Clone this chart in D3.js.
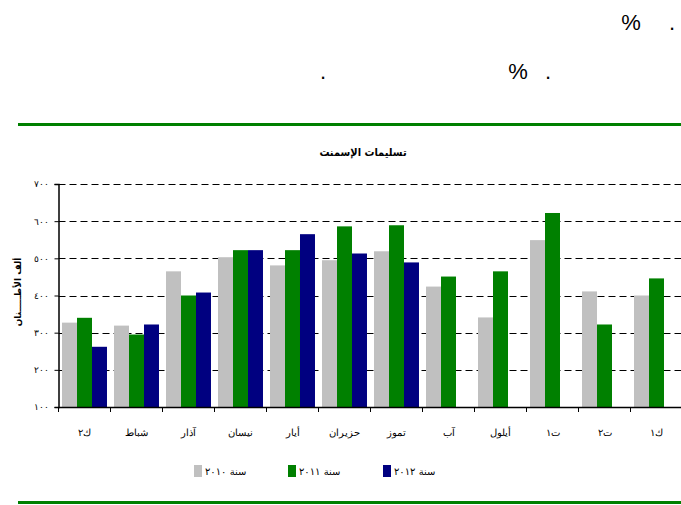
<!DOCTYPE html>
<html>
<head>
<meta charset="utf-8">
<script src="https://cdn.jsdelivr.net/npm/d3@7"></script>
<style>
body { margin: 0; background: #fff; }
svg { display: block; font-family: "DejaVu Sans", sans-serif; }
.grid line { stroke: #000; stroke-dasharray: 7,4; }
.axis path, .axis line { stroke: #000; }
.axis text { font-size: 9px; fill: #000; }
</style>
</head>
<body>
<div class="app"></div>
<script>
'use strict'

var width = 681;
var height = 505;

// months (Jan .. Dec)
var months = ["ك٢", "شباط", "آذار", "نيسان", "أيار", "حزيران", "تموز", "آب", "أيلول", "ت١", "ت٢", "ك١"];
var seriesNames = ["سنة ٢٠١٠", "سنة ٢٠١١", "سنة ٢٠١٢"];
var seriesColors = ["#c0c0c0", "#008000", "#000080"];
var values2010 = [327, 319, 465, 503, 481, 495, 519, 424, 341, 549, 411, 400];
var values2011 = [340, 295, 400, 522, 522, 586, 589, 451, 465, 622, 322, 446];
var values2012 = [262, 322, 408, 522, 565, 513, 489, null, null, null, null, null];
var yTicks = [100, 200, 300, 400, 500, 600, 700];

var allSeries = [values2010, values2011, values2012];

function arabicDigits(n) {
	return String(n).replace(/[0-9]/g, function(d) { return "٠١٢٣٤٥٦٧٨٩"[+d]; });
}

var svg = d3.select(".app")
	.append("svg")
	.attr("width", width)
	.attr("height", height);

// текст сверху (арабский шрифт не отрисован, видны только знаки)
svg.append("text").attr("x", 631).attr("y", 30).attr("text-anchor", "middle")
	.style("font-family", "Liberation Sans").style("font-size", "22px").text("%");
svg.append("text").attr("x", 672).attr("y", 30).attr("text-anchor", "middle")
	.style("font-family", "Liberation Sans").style("font-size", "22px").text(".");
svg.append("text").attr("x", 518).attr("y", 79).attr("text-anchor", "middle")
	.style("font-family", "Liberation Sans").style("font-size", "22px").text("%");
svg.append("text").attr("x", 548).attr("y", 79).attr("text-anchor", "middle")
	.style("font-family", "Liberation Sans").style("font-size", "22px").text(".");
svg.append("text").attr("x", 323).attr("y", 79).attr("text-anchor", "middle")
	.style("font-family", "Liberation Sans").style("font-size", "22px").text(".");

// зелёные линии
svg.append("line").attr("x1", 18).attr("x2", width).attr("y1", 124.5).attr("y2", 124.5)
	.attr("stroke", "#008000").attr("stroke-width", 3);
svg.append("line").attr("x1", 18).attr("x2", width).attr("y1", 502.5).attr("y2", 502.5)
	.attr("stroke", "#008000").attr("stroke-width", 3);

var scaleX = d3.scaleBand()
	.domain(months)
	.range([58.5, 682.5])
	.paddingInner(0.135)
	.paddingOuter(0.0675);

var scaleSeries = d3.scaleBand()
	.domain([0, 1, 2])
	.range([0, scaleX.bandwidth()]);

var scaleY = d3.scaleLinear()
	.domain([100, 700])
	.range([407, 184]);

// сетка
svg.append("g")
	.attr("class", "grid")
	.selectAll("line")
	.data(yTicks.slice(1))
	.join("line")
	.attr("x1", 58.5)
	.attr("x2", width)
	.attr("y1", function(d) { return Math.round(scaleY(d)) + 0.5; })
	.attr("y2", function(d) { return Math.round(scaleY(d)) + 0.5; });

// столбцы
svg.append("g")
	.selectAll("g")
	.data(months)
	.join("g")
	.attr("transform", function(d) { return "translate(" + scaleX(d) + ",0)"; })
	.selectAll("rect")
	.data(function(d, i) {
		return allSeries.map(function(s, k) { return {k: k, v: s[i]}; })
			.filter(function(e) { return e.v !== null; });
	})
	.join("rect")
	.attr("x", function(d) { return scaleSeries(d.k); })
	.attr("width", scaleSeries.bandwidth())
	.attr("y", function(d) { return scaleY(d.v); })
	.attr("height", function(d) { return scaleY(100) - scaleY(d.v); })
	.attr("fill", function(d) { return seriesColors[d.k]; });

// ось Y
var yAxis = d3.axisLeft(scaleY)
	.tickValues(yTicks)
	.tickSize(4)
	.tickPadding(6)
	.tickFormat(arabicDigits);

svg.append("g")
	.attr("class", "axis")
	.attr("transform", "translate(58.5,0)")
	.call(yAxis)
	.call(function(g) { g.select(".domain").attr("stroke-width", 1.5); });

// ось X: деления на границах категорий
var xAxis = d3.axisBottom(scaleX)
	.tickSize(0)
	.tickPadding(22);

var gx = svg.append("g")
	.attr("class", "axis")
	.attr("transform", "translate(0,407)")
	.call(xAxis);
gx.select(".domain").attr("stroke-width", 1.5);
gx.selectAll(".tick text").style("font-size", "10px");

gx.selectAll("line.sep")
	.data(months)
	.join("line")
	.attr("class", "sep")
	.attr("x1", function(d) { return scaleX(d) - scaleX.step() * scaleX.paddingInner() / 2; })
	.attr("x2", function(d) { return scaleX(d) - scaleX.step() * scaleX.paddingInner() / 2; })
	.attr("y1", 0)
	.attr("y2", 5)
	.attr("stroke", "#000");

// заголовок
svg.append("text")
	.attr("x", 363)
	.attr("y", 156)
	.attr("text-anchor", "middle")
	.style("font-family", "'DejaVu Sans Condensed', 'DejaVu Sans', sans-serif")
	.style("font-size", "11px")
	.style("font-weight", "bold")
	.text("تسليمات الإسمنت");

// подпись оси Y
svg.append("text")
	.attr("transform", "translate(21,292) rotate(-90)")
	.attr("text-anchor", "middle")
	.style("font-size", "9px")
	.style("font-weight", "bold")
	.text("ألف الأطـــــنان");

// легенда
var legendX = [194, 288, 383];
var legend = svg.append("g")
	.selectAll("g")
	.data(seriesNames)
	.join("g")
	.attr("transform", function(d, i) { return "translate(" + legendX[i] + ",465)"; });

legend.append("rect")
	.attr("width", 8)
	.attr("height", 12)
	.attr("fill", function(d, i) { return seriesColors[i]; });

legend.append("text")
	.attr("x", 11)
	.attr("y", 10)
	.style("font-size", "10px")
	.text(function(d) { return d; });
</script>
</body>
</html>
